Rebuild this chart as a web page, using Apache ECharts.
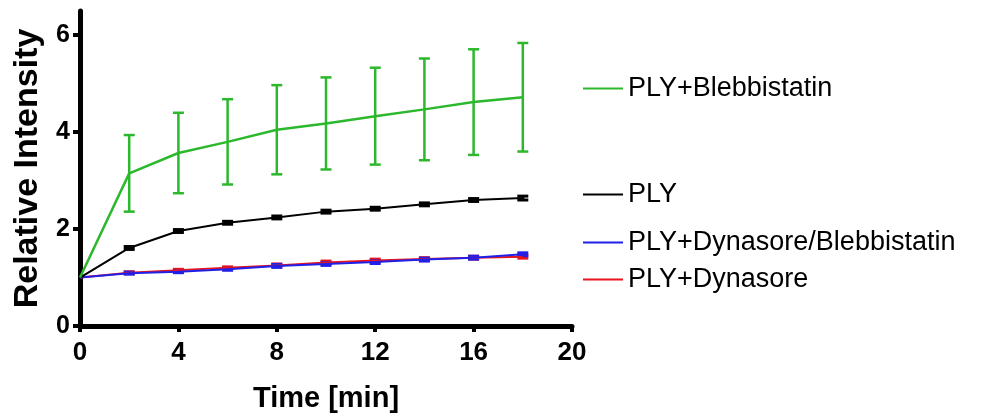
<!DOCTYPE html>
<html>
<head>
<meta charset="utf-8">
<script src="https://cdn.jsdelivr.net/npm/echarts@6/dist/echarts.min.js"></script>
<style>html,body{margin:0;padding:0;background:#fff;}#c{width:984px;height:418px;}</style>
</head>
<body>
<div id="c"></div>
<script>
var time = [0, 2, 4, 6, 8, 10, 12, 14, 16, 18];
var blebMean = [1.00, 3.15, 3.57, 3.80, 4.05, 4.18, 4.33, 4.47, 4.62, 4.72];
var blebErr  = [0.00, 0.79, 0.83, 0.88, 0.92, 0.95, 1.00, 1.05, 1.09, 1.12];
var plyMean  = [1.00, 1.61, 1.96, 2.13, 2.24, 2.36, 2.42, 2.51, 2.60, 2.64];
var plyErr   = [0.00, 0.03, 0.03, 0.03, 0.03, 0.03, 0.03, 0.03, 0.03, 0.04];
var dynBlebMean = [1.00, 1.09, 1.12, 1.17, 1.24, 1.28, 1.32, 1.37, 1.41, 1.48];
var dynBlebErr  = [0.00, 0.02, 0.02, 0.02, 0.03, 0.03, 0.03, 0.03, 0.03, 0.03];
var dynMean  = [1.00, 1.10, 1.15, 1.20, 1.25, 1.31, 1.35, 1.38, 1.41, 1.43];
var dynErr   = [0.00, 0.02, 0.02, 0.02, 0.03, 0.03, 0.03, 0.03, 0.03, 0.03];
var names = ['PLY+Blebbistatin', 'PLY', 'PLY+Dynasore/Blebbistatin', 'PLY+Dynasore'];
var colors = ['#2cb82c', '#000000', '#2020e8', '#e8141e'];
var xTicks = [0, 4, 8, 12, 16, 20];
var yTicks = [0, 2, 4, 6];

function pts(m) { return time.map(function (t, i) { return [t, m[i]]; }); }
function errs(m, e) { return time.map(function (t, i) { return [t, m[i] - e[i], m[i] + e[i]]; }).filter(function (d, i) { return e[i] > 0; }); }

function errSeries(m, e, color, w) {
  return {
    type: 'custom', silent: true, z: 3,
    data: errs(m, e),
    renderItem: function (params, api) {
      var x = api.value(0);
      var lo = api.coord([x, api.value(1)]);
      var hi = api.coord([x, api.value(2)]);
      var hw = 5.5;
      var st = { stroke: color, lineWidth: w };
      return {
        type: 'group',
        children: [
          { type: 'line', shape: { x1: lo[0], y1: lo[1], x2: hi[0], y2: hi[1] }, style: st },
          { type: 'line', shape: { x1: lo[0] - hw, y1: lo[1], x2: lo[0] + hw, y2: lo[1] }, style: st },
          { type: 'line', shape: { x1: hi[0] - hw, y1: hi[1], x2: hi[0] + hw, y2: hi[1] }, style: st }
        ]
      };
    }
  };
}

function lineSeries(name, m, color, w) {
  return { name: name, type: 'line', data: pts(m), symbol: 'none', color: color,
    lineStyle: { color: color, width: w }, z: 4 };
}

function legend(name, top) {
  return { data: [name], left: 583, top: top, padding: 0, icon: 'rect', itemWidth: 40, itemHeight: 2,
    selectedMode: false,
    textStyle: { fontSize: 27, color: '#000', fontFamily: 'Liberation Sans, Arial, sans-serif' } };
}

var chart = echarts.init(document.getElementById('c'), null, { renderer: 'canvas' });
chart.setOption({
  animation: false,
  backgroundColor: '#fff',
  grid: { left: 80, right: 412, top: 11, bottom: 88, containLabel: false },
  legend: [legend(names[0], 75), legend(names[1], 181), legend(names[2], 229), legend(names[3], 266)],
  xAxis: {
    type: 'value', min: 0, max: 20, interval: 4,
    name: 'Time [min]', nameLocation: 'middle', nameGap: 58,
    nameTextStyle: { fontSize: 29, fontWeight: 'bold', color: '#000', fontFamily: 'Liberation Sans, Arial, sans-serif' },
    axisLine: { lineStyle: { color: '#000', width: 5 } },
    axisTick: { length: 6, lineStyle: { color: '#000', width: 4 } },
    axisLabel: { margin: 14, fontSize: 26, fontWeight: 'bold', color: '#000', fontFamily: 'Liberation Sans, Arial, sans-serif' },
    splitLine: { show: false }
  },
  yAxis: {
    type: 'value', min: 0, max: 6.5,
    name: 'Relative Intensity', nameLocation: 'middle', nameGap: 35,
    nameTextStyle: { fontSize: 34, fontWeight: 'bold', color: '#000', fontFamily: 'Liberation Sans, Arial, sans-serif' },
    axisLine: { lineStyle: { color: '#000', width: 5 } },
    axisTick: { length: 7, customValues: yTicks, lineStyle: { color: '#000', width: 4 } },
    axisLabel: { margin: 10, customValues: yTicks, fontSize: 25, fontWeight: 'bold', color: '#000', fontFamily: 'Liberation Sans, Arial, sans-serif' },
    splitLine: { show: false }
  },
  series: [
    errSeries(dynMean, dynErr, colors[3], 3),
    lineSeries(names[3], dynMean, colors[3], 2),
    errSeries(dynBlebMean, dynBlebErr, colors[2], 3),
    lineSeries(names[2], dynBlebMean, colors[2], 2),
    errSeries(plyMean, plyErr, colors[1], 3),
    lineSeries(names[1], plyMean, colors[1], 2),
    errSeries(blebMean, blebErr, colors[0], 2.5),
    lineSeries(names[0], blebMean, colors[0], 2.5)
  ]
});
</script>
</body>
</html>
